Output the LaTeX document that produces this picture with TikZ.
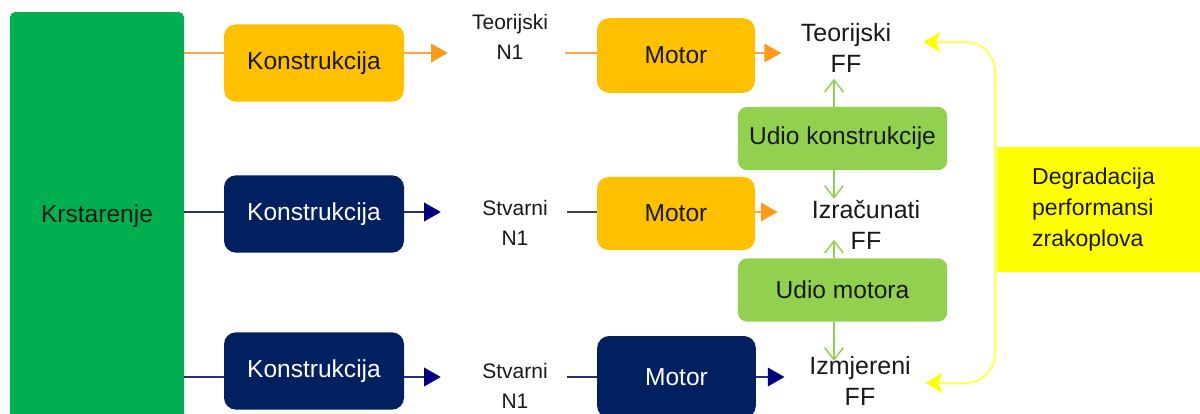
\documentclass[tikz,border=0pt]{standalone}
\usepackage{fontspec}
\setmainfont{Liberation Sans}
\usetikzlibrary{arrows.meta, positioning}

\definecolor{boxgreen}{HTML}{00B050}
\definecolor{boxlgreen}{HTML}{92D050}
\definecolor{boxorange}{HTML}{FFC000}
\definecolor{boxnavy}{HTML}{002060}
\definecolor{boxyellow}{HTML}{FFFF00}
\definecolor{lineorange}{HTML}{F9A44A}
\definecolor{tiporange}{HTML}{FF9A1A}
\definecolor{linenavy}{HTML}{1F3470}
\definecolor{tipnavy}{HTML}{000080}
\definecolor{linegray}{HTML}{404040}
\definecolor{lineyellow}{HTML}{FFFF55}

\tikzset{
  base/.style={rectangle, inner sep=0pt, align=center,
               font=\fontsize{18.4}{22}\selectfont},
  obox/.style={base, rounded corners=9pt, fill=boxorange, text=black!90,
               minimum width=135pt, minimum height=58pt},
  nbox/.style={base, rounded corners=9pt, fill=boxnavy, text=white,
               minimum width=135pt, minimum height=58pt},
  gbox/.style={base, rounded corners=7pt, fill=boxlgreen, text=black!90,
               minimum width=157pt, minimum height=47.5pt},
  lbl/.style={inner sep=0pt, align=center, text=black!90,
              font=\fontsize{15.75}{22.5}\selectfont},
  fflbl/.style={inner sep=0pt, align=center, text=black!90,
                font=\fontsize{18.75}{23.25}\selectfont},
  oline/.style={draw=lineorange, line width=1.1pt},
  oarrow/.style={oline, -{Triangle[length=12.5pt, width=14pt, color=tiporange]}},
  nline/.style={draw=linenavy, line width=1.1pt},
  narrow/.style={nline, -{Triangle[length=12.5pt, width=14pt, color=tipnavy]}},
  kline/.style={draw=linegray, line width=1.3pt},
  garrow/.style={draw=boxlgreen, line width=1.1pt,
                 -{Straight Barb[length=9pt, width=14pt]}},
  yarrow/.style={draw=lineyellow, line width=1.5pt,
                 {Stealth[length=12.5pt, width=15pt, inset=3pt, color=boxyellow]}-%
                 {Stealth[length=12.5pt, width=15pt, inset=3pt, color=boxyellow]}},
}

\begin{document}
\begin{tikzpicture}[x=0.75pt, y=-0.75pt]
  \useasboundingbox (0,0) rectangle (1200,414);

  % rows and columns
  \coordinate (r1) at (0,53);
  \coordinate (r2) at (0,212);
  \coordinate (r3) at (0,377);
  \coordinate (gx) at (834,0);
  \coordinate (yt) at (995,42);
  \coordinate (yb) at (995,383);

  \node[base, rounded corners=4pt, fill=boxgreen, text=black!90,
        minimum width=130.5pt, minimum height=306pt] (kr) at (97,216) {Krstarenje};

  \node[obox] (k1) at (314,63)  {Konstrukcija};
  \node[nbox] (k2) at (314,214) {Konstrukcija};
  \node[nbox] (k3) at (314,371) {Konstrukcija};

  \node[lbl] (n1) at (510,37)  {Teorijski\\N1};
  \node[lbl] (n2) at (515,223) {Stvarni\\N1};
  \node[lbl] (n3) at (515,386) {Stvarni\\N1};

  \node[obox, minimum width=118.5pt, minimum height=56pt] (m1) at (676,55.5) {Motor};
  \node[obox, minimum width=118.5pt, minimum height=55pt] (m2) at (676,213.5) {Motor};
  \node[nbox, minimum width=119pt, minimum height=61.5pt] (m3) at (676.5,377) {Motor};

  \node[fflbl] (f1) at (846,48)  {Teorijski\\FF};
  \node[fflbl] (f2) at (866,225) {Izračunati\\FF};
  \node[fflbl] (f3) at (860,381) {Izmjereni\\FF};

  \node[gbox] (u1) at (842.5,138.5) {Udio konstrukcije};
  \node[gbox] (u2) at (842.5,290)   {Udio motora};

  \node[rectangle, fill=boxyellow, text=black!90, align=left,
        minimum width=160pt, minimum height=93.75pt, text width=107pt,
        inner xsep=26.25pt, font=\fontsize{17.25}{23}\selectfont]
        (deg) at (1103.5,209.5) {Degradacija\\performansi\\zrakoplova};

  % row 1
  \draw[oline] (kr.east |- r1) -- (k1.west |- r1);
  \draw[oarrow, shorten >=18pt] (k1.east |- r1) -- (n1.west |- r1);
  \draw[oline, shorten <=12.75pt] (n1.east |- r1) -- (m1.west |- r1);
  \draw[oarrow, shorten >=14.6pt] (m1.east |- r1) -- (f1.west |- r1);

  % row 2
  \draw[nline] (kr.east |- r2) -- (k2.west |- r2);
  \draw[narrow, shorten >=31pt] (k2.east |- r2) -- (n2.west |- r2);
  \draw[kline, shorten <=14.6pt] (n2.east |- r2) -- (m2.west |- r2);
  \draw[oarrow, shorten >=25.5pt] (m2.east |- r2) -- (f2.west |- r2);

  % row 3
  \draw[nline] (kr.east |- r3) -- (k3.west |- r3);
  \draw[narrow, shorten >=31pt] (k3.east |- r3) -- (n3.west |- r3);
  \draw[nline, shorten <=14.6pt] (n3.east |- r3) -- (m3.west |- r3);
  \draw[narrow, shorten >=18.4pt] (m3.east |- r3) -- (f3.west |- r3);

  % shares
  \draw[garrow, shorten >=4.5pt] (u1.north -| gx) -- (f1.south -| gx);
  \draw[garrow, shorten >=1pt] (u1.south -| gx) -- (f2.north -| gx);
  \draw[garrow, shorten >=-7.5pt] (u2.north -| gx) -- (f2.south -| gx);
  \draw[garrow, shorten >=-3.5pt] (u2.south -| gx) -- (f3.north -| gx);

  \draw[yarrow, rounded corners=22pt, shorten <=24pt, shorten >=11pt]
    (f1.east |- yt) -- (yt) -- (yb) -- (f3.east |- yb);
\end{tikzpicture}
\end{document}
